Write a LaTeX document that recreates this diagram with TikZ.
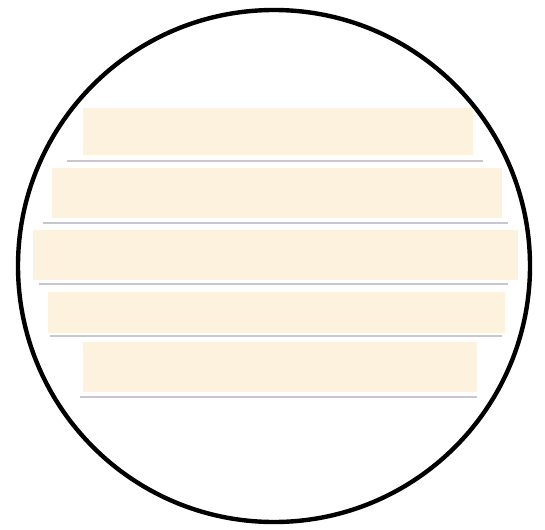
\documentclass[tikz,border=0pt]{standalone}
\definecolor{barfill}{RGB}{253,242,222}
\definecolor{rulegray}{RGB}{200,198,206}
\begin{document}
\begin{tikzpicture}[x=1pt,y=-1pt,
  barbox/.style={fill=barfill,draw=none},
  ruleline/.style={draw=rulegray,line width=2.2pt},
  rim/.style={draw=black,line width=4.4pt}]
\useasboundingbox (0,0) rectangle (545,529);
% bars
\path[barbox] (83,108) rectangle (473,155);
\path[barbox] (52,168) rectangle (502,218);
\path[barbox] (33,230) rectangle (518,280);
\path[barbox] (48,292) rectangle (505,333);
\path[barbox] (83,342) rectangle (477,392);
% rules
\draw[ruleline] (67,161) -- (483,161);
\draw[ruleline] (43,223) -- (508,223);
\draw[ruleline] (39,284) -- (508,284);
\draw[ruleline] (50,336) -- (502,336);
\draw[ruleline] (80,397) -- (477,397);
% circle
\draw[rim] (274,266) circle[radius=256];
\end{tikzpicture}
\end{document}
